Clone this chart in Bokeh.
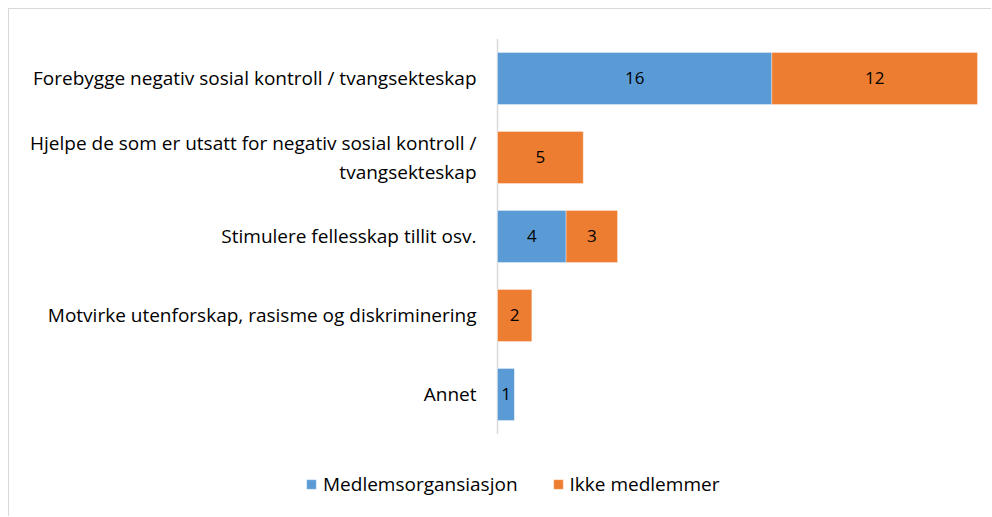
from bokeh.plotting import figure
from bokeh.models import ColumnDataSource, Range1d, Legend, LegendItem
from bokeh.core.properties import value
from bokeh.embed import file_html
from bokeh.resources import INLINE

categories = [
    "Forebygge negativ sosial kontroll / tvangsekteskap",
    "Hjelpe de som er utsatt for negativ sosial kontroll /\ntvangsekteskap",
    "Stimulere fellesskap tillit osv.",
    "Motvirke utenforskap, rasisme og diskriminering",
    "Annet",
]
medlem = [16, 0, 4, 0, 1]
ikke_medlem = [12, 5, 3, 2, 0]
legend_labels = ["Medlemsorgansiasjon", "Ikke medlemmer"]
colors = ["#5B9BD5", "#ED7D31"]

FONT = "Open Sans"

pos = list(range(len(categories)))  # category slots, top to bottom
src = ColumnDataSource(dict(pos=pos, cat=categories, m=medlem, i=ikke_medlem))

p = figure(
    width=983, height=508,
    x_range=Range1d(-28.47, 28.875),
    y_range=Range1d(5.557, -0.873),
    output_backend="svg", toolbar_location=None,
    min_border=0,
)
p.styles = {"margin-left": "8px", "margin-top": "8px",
            "border-left": "1px solid #d9d9d9", "border-top": "1px solid #d9d9d9"}

p.axis.visible = False
p.grid.visible = False
p.outline_line_color = None

# category axis line
p.segment(x0=[0], y0=[pos[0] - 0.5], x1=[0], y1=[pos[-1] + 0.5],
          line_color="#d9d9d9", line_width=1.5)

rs = p.hbar_stack(["m", "i"], y="pos", height=0.66, color=colors, source=src,
                  line_color="white", line_width=0.6, line_alpha=0.6)

# category labels
p.text(x=0, y="pos", text="cat", source=src, x_offset=-21,
       text_align="right", text_baseline="middle", text_line_height=1.1,
       text_font=value(FONT), text_font_size="19px", text_color="#000000")

# data labels
lx, ly, lt = [], [], []
for k, m, i in zip(pos, medlem, ikke_medlem):
    if m:
        lx.append(m / 2); ly.append(k); lt.append(str(m))
    if i:
        lx.append(m + i / 2); ly.append(k); lt.append(str(i))
lsrc = ColumnDataSource(dict(x=lx, y=ly, t=lt))
p.text(x="x", y="y", text="t", source=lsrc, text_align="center", text_baseline="middle",
       text_font=value(FONT), text_font_size="17px", text_color="#000000")

legend = Legend(
    items=[LegendItem(label=legend_labels[k], renderers=[rs[k]]) for k in range(2)],
    orientation="horizontal", location=(296, 20),
    glyph_width=12, glyph_height=12, label_standoff=6, spacing=34,
    padding=0, margin=0, border_line_color=None, background_fill_alpha=0,
    label_text_font=FONT, label_text_font_size="19px", label_text_color="#000000",
)
p.add_layout(legend, "center")

open("out.html", "w").write(file_html(p, INLINE))
